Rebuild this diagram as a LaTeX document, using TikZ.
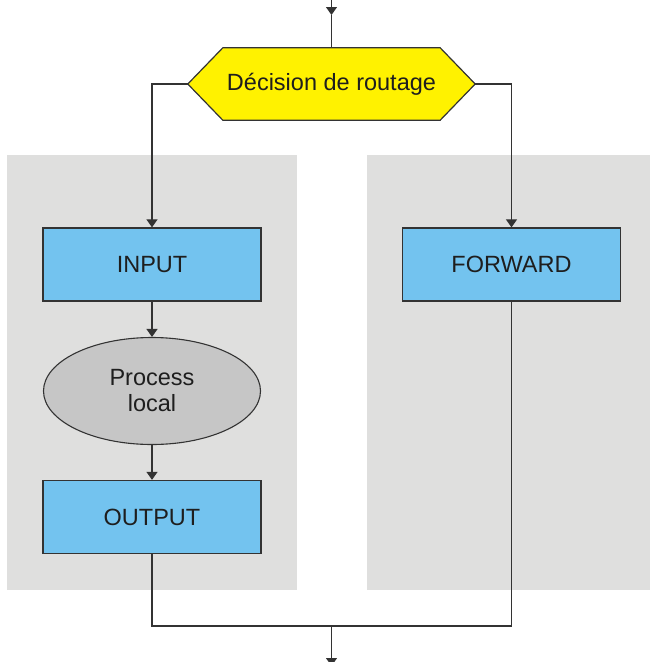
\documentclass[tikz,border=0pt]{standalone}
\usepackage{fontspec}
\setmainfont{Liberation Sans}
\usetikzlibrary{arrows.meta,backgrounds,shapes.geometric}
\definecolor{panelgray}{HTML}{DFDFDE}
\definecolor{boxblue}{HTML}{73C3EF}
\definecolor{hexyellow}{HTML}{FFF200}
\definecolor{ellgray}{HTML}{C6C6C6}
\definecolor{edgecol}{HTML}{333333}
\definecolor{txtcol}{HTML}{1E1E1E}
\begin{document}
\begin{tikzpicture}[x=1pt,y=-1pt,
  lbl/.style={font=\fontsize{23.5}{26}\selectfont,text=txtcol},
  chainbox/.style={lbl,draw=edgecol,line width=1.3pt,fill=boxblue,
    minimum width=218pt,minimum height=73pt,inner sep=0pt},
  procell/.style={lbl,ellipse,draw=edgecol,line width=1.1pt,fill=ellgray,
    minimum width=217pt,minimum height=107pt,inner sep=0pt,align=center},
  hexnode/.style={lbl,minimum width=287pt,minimum height=72pt,inner sep=0pt},
  wire/.style={draw=edgecol,line width=1.2pt},
  conn/.style={wire,-{Triangle[width=11pt,length=8pt]}},
]
\useasboundingbox (0,0) rectangle (650,662);

\node[hexnode] (hex) at (331.5,84) {Décision de routage};
\node[chainbox] (input) at (152,264.5) {INPUT};
\node[procell] (proc) at (152,391) {Process\\local};
\node[chainbox] (output) at (152,517) {OUTPUT};
\node[chainbox] (forward) at (511.5,264.5) {FORWARD};

\coordinate (inend) at (331.5,-6);
\coordinate (intip) at (331.5,15);
\coordinate (join) at (331.5,626);
\coordinate (outend) at (331.5,666);

\begin{scope}[on background layer]
  \fill[panelgray] (7,155) rectangle (297,590);
  \fill[panelgray] (367,155) rectangle (650,590);
  \filldraw[fill=hexyellow,draw=edgecol,line width=1.2pt]
    (hex.west) -- ([xshift=35pt]hex.north west) -- ([xshift=-35pt]hex.north east)
    -- (hex.east) -- ([xshift=-35pt]hex.south east) -- ([xshift=35pt]hex.south west) -- cycle;
\end{scope}

\draw[conn] (inend) -- (intip);
\draw[wire] (intip) -- (hex.north);
\draw[conn] (hex.west) -| (input.north);
\draw[conn] (hex.east) -| (forward.north);
\draw[conn] (input.south) -- (proc.north);
\draw[conn] (proc.south) -- (output.north);
\draw[wire] (output.south) |- (join) -| (forward.south);
\draw[conn] (join) -- (outend);
\end{tikzpicture}
\end{document}
